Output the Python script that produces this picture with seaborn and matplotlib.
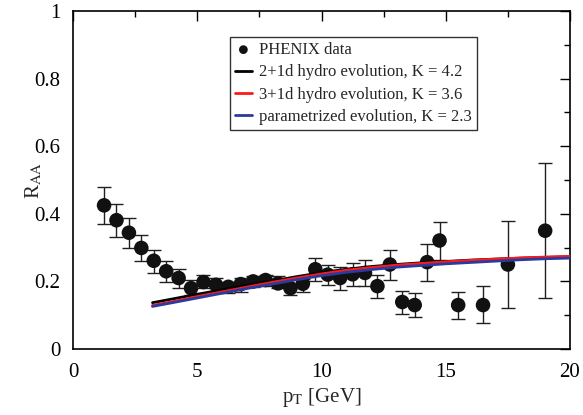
import numpy as np
import pandas as pd
import matplotlib
matplotlib.use("Agg")
import matplotlib.pyplot as plt
from matplotlib.ticker import MultipleLocator, FuncFormatter
import seaborn as sns

# PHENIX data
pt_data = [1.25, 1.75, 2.25, 2.75, 3.25, 3.75, 4.25, 4.75, 5.25, 5.75,
           6.25, 6.75, 7.25, 7.75, 8.25, 8.75, 9.25, 9.75, 10.25, 10.75,
           11.25, 11.75, 12.25, 12.75, 13.25, 13.75, 14.25, 14.75, 15.5, 16.5,
           17.5, 19.0]
raa_data = [0.425, 0.381, 0.344, 0.299, 0.261, 0.230, 0.210, 0.180, 0.198, 0.190,
            0.184, 0.192, 0.200, 0.204, 0.194, 0.180, 0.193, 0.236, 0.220, 0.210,
            0.221, 0.225, 0.186, 0.250, 0.139, 0.130, 0.257, 0.321, 0.130, 0.130,
            0.250, 0.350]
err_hi = [0.480, 0.430, 0.388, 0.338, 0.294, 0.260, 0.238, 0.204, 0.218, 0.209,
          0.198, 0.209, 0.217, 0.220, 0.217, 0.191, 0.206, 0.269, 0.249, 0.243,
          0.254, 0.264, 0.218, 0.294, 0.173, 0.165, 0.310, 0.376, 0.170, 0.185,
          0.380, 0.550]
err_lo = [0.370, 0.330, 0.300, 0.260, 0.224, 0.199, 0.180, 0.160, 0.179, 0.173,
          0.165, 0.170, 0.182, 0.185, 0.180, 0.160, 0.169, 0.200, 0.190, 0.175,
          0.185, 0.185, 0.150, 0.205, 0.105, 0.096, 0.200, 0.264, 0.090, 0.076,
          0.120, 0.151]

# model curves
pt_model = [3.2, 4, 5, 6, 7, 8, 9, 10, 11, 12, 13, 14, 15, 16, 17, 18, 19, 20]
raa_2p1 = [0.137, 0.148, 0.162, 0.175, 0.189, 0.201, 0.214, 0.226, 0.236, 0.244,
           0.250, 0.255, 0.259, 0.263, 0.266, 0.269, 0.271, 0.273]
raa_3p1 = [0.129, 0.140, 0.155, 0.169, 0.183, 0.197, 0.210, 0.222, 0.233, 0.241,
           0.248, 0.253, 0.258, 0.262, 0.266, 0.269, 0.272, 0.274]
raa_par = [0.126, 0.137, 0.151, 0.165, 0.179, 0.192, 0.205, 0.217, 0.227, 0.235,
           0.242, 0.247, 0.252, 0.256, 0.260, 0.264, 0.267, 0.269]

labels = ["2+1d hydro evolution, K = 4.2",
          "3+1d hydro evolution, K = 3.6",
          "parametrized evolution, K = 2.3"]
colors = ["black", "#ff1a1a", "#2a3aa0"]

sns.set_theme(style="white")
plt.rcParams["font.family"] = ["Liberation Serif", "DejaVu Serif"]
plt.rcParams["mathtext.fontset"] = "stix"

fig = plt.figure(figsize=(5.83, 4.15), dpi=100)
ax = fig.add_axes([73/583, 1-349/415, 497/583, 338/415])

df_data = pd.DataFrame({"pt": pt_data, "raa": raa_data})
ax.errorbar(pt_data, raa_data,
            yerr=[np.array(raa_data) - np.array(err_lo), np.array(err_hi) - np.array(raa_data)],
            fmt="none", ecolor="#202020", elinewidth=1.0, capsize=5, capthick=1.0, zorder=2)
sns.scatterplot(data=df_data, x="pt", y="raa", ax=ax, color="#111111", s=110,
                edgecolor="none", label="PHENIX data", zorder=3)

df_model = pd.DataFrame({
    "pt": pt_model * 3,
    "raa": raa_2p1 + raa_3p1 + raa_par,
    "model": [labels[0]] * len(pt_model) + [labels[1]] * len(pt_model) + [labels[2]] * len(pt_model),
})
sns.lineplot(data=df_model, x="pt", y="raa", hue="model", hue_order=labels,
             palette=colors, ax=ax, linewidth=2.0, zorder=4)

ax.set_xlim(0, 20)
ax.set_ylim(0, 1)
ax.xaxis.set_major_locator(MultipleLocator(5))
ax.xaxis.set_minor_locator(MultipleLocator(2.5))
ax.yaxis.set_major_locator(MultipleLocator(0.2))
ax.yaxis.set_minor_locator(MultipleLocator(0.1))
ax.yaxis.set_major_formatter(FuncFormatter(lambda v, p: "%g" % v))
ax.tick_params(which="both", direction="in", top=True, right=True,
               labelsize=15, colors="black")
ax.tick_params(which="major", length=7, width=1)
ax.tick_params(which="minor", length=4, width=1)
ax.tick_params(axis="y", pad=9)
ax.tick_params(axis="x", pad=10)
for s in ax.spines.values():
    s.set_color("black")
    s.set_linewidth(1.2)

ax.set_xlabel(r"p$_{\rm T}$ [GeV]", fontsize=15, labelpad=3)
ax.set_ylabel(r"R$_{\rm AA}$", fontsize=15)
ax.yaxis.set_label_coords(-0.058, 0.5)

leg = ax.legend(loc="upper left", bbox_to_anchor=(0.316, 0.923), borderaxespad=0,
                fontsize=12, frameon=True, fancybox=False, handlelength=1.0,
                handletextpad=0.45, labelspacing=0.38, borderpad=0.3, markerscale=0.6)
leg.get_frame().set_edgecolor("black")
leg.get_frame().set_linewidth(1.0)

fig.savefig("out.png", dpi=100)
